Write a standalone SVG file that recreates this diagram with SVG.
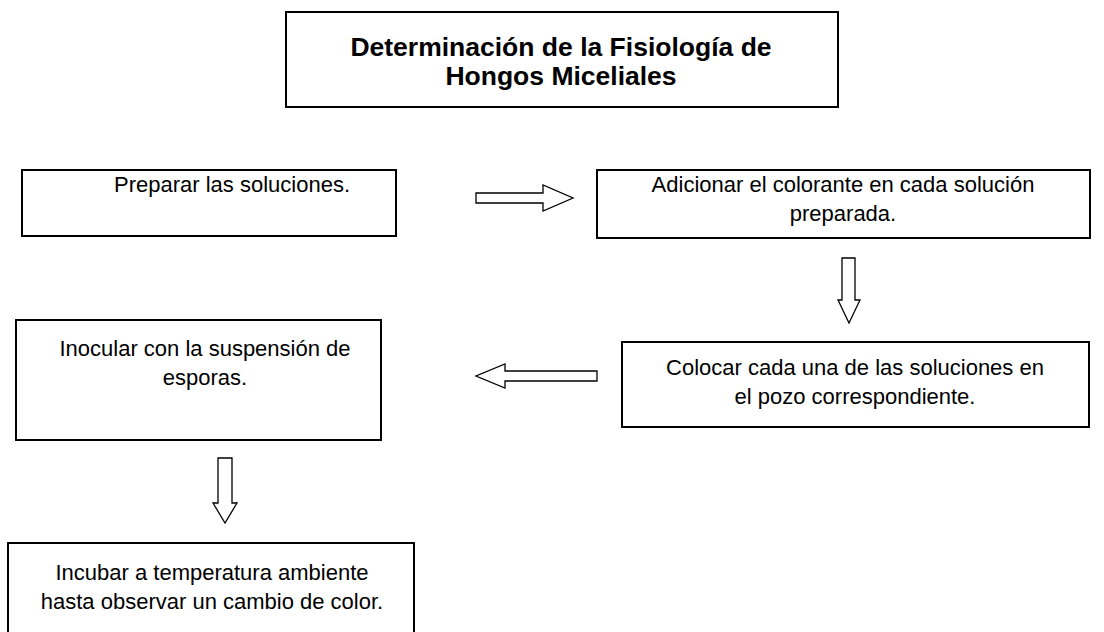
<svg xmlns="http://www.w3.org/2000/svg" width="1104" height="632" viewBox="0 0 1104 632">
<style>
.box{fill:#fff;stroke:#000;stroke-width:2}
.t{font-family:"Liberation Sans",Arial,sans-serif;font-size:22px;fill:#000;text-anchor:middle}
.tb{font-family:"Liberation Sans",Arial,sans-serif;font-size:26.5px;font-weight:bold;fill:#000;text-anchor:middle}
.arr{fill:#fff;stroke:#000;stroke-width:1.3}
</style>
<rect width="1104" height="632" fill="#fff"/>
<g id="title">
<rect class="box" x="286" y="12" width="552" height="95"/>
<text class="tb" x="561" y="56">Determinación de la Fisiología de</text>
<text class="tb" x="561" y="85">Hongos Miceliales</text>
</g>
<g id="n1">
<rect class="box" x="22" y="170" width="374" height="66"/>
<text class="t" x="232" y="192">Preparar las soluciones.</text>
</g>
<g id="n2">
<rect class="box" x="597" y="170" width="493" height="68"/>
<text class="t" x="843" y="192">Adicionar el colorante en cada solución</text>
<text class="t" x="843" y="221">preparada.</text>
</g>
<g id="n3">
<rect class="box" x="622" y="342" width="467" height="85"/>
<text class="t" x="855" y="375">Colocar cada una de las soluciones en</text>
<text class="t" x="855" y="404">el pozo correspondiente.</text>
</g>
<g id="n4">
<rect class="box" x="16" y="320" width="365" height="120"/>
<text class="t" x="205" y="356">Inocular con la suspensión de</text>
<text class="t" x="205" y="385">esporas.</text>
</g>
<g id="n5">
<rect class="box" x="8" y="543" width="406" height="95"/>
<text class="t" x="212" y="580">Incubar a temperatura ambiente</text>
<text class="t" x="212" y="609">hasta observar un cambio de color.</text>
</g>
<g id="connectors">
<path class="arr" d="M476,193 H543 V185 L573,198 L543,211 V203 H476 Z"/>
<path class="arr" d="M842,258 H855 V300 H860 L849,323 L838,300 H842 Z"/>
<path class="arr" d="M597,371 H505 V364 L476,376 L505,388 V381 H597 Z"/>
<path class="arr" d="M218,458 H232 V503 H237 L225,523 L213,503 H218 Z"/>
</g>
</svg>
